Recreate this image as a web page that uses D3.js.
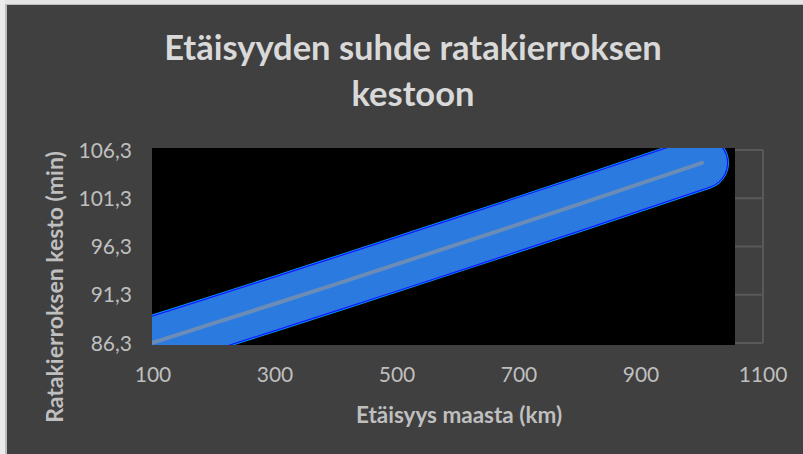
<!DOCTYPE html>
<html>
<head>
<meta charset="utf-8">
<script src="https://cdn.jsdelivr.net/npm/d3@7/dist/d3.min.js"></script>
<style>
  html, body { margin: 0; padding: 0; background: #404040; }
  svg { display: block; }
</style>
</head>
<body>
<svg id="chart" width="803" height="454"></svg>
<script>
// Orbital altitude (km) and period of one orbit (min)
const altitudes = [100, 200, 300, 400, 500, 600, 700, 800, 900, 1000];
const periods = [86.34, 88.35, 90.37, 92.41, 94.47, 96.54, 98.62, 100.72, 102.84, 104.97];
const xTicks = [100, 300, 500, 700, 900, 1100];
const yTicks = [86.3, 91.3, 96.3, 101.3, 106.3];

const titleLines = ["Etäisyyden suhde ratakierroksen", "kestoon"];
const xTitle = "Etäisyys maasta (km)";
const yTitle = "Ratakierroksen kesto (min)";

const W = 803, H = 454;
const svg = d3.select("#chart");
const font = "Lato, 'Open Sans', sans-serif";

// Background and the light frame on the top and left edges
svg.append("rect").attr("width", W).attr("height", H).attr("fill", "#404040");
svg.append("rect").attr("x", 0).attr("y", 0).attr("width", W).attr("height", 4).attr("fill", "#e4e4e4");
svg.append("rect").attr("x", 0).attr("y", 0).attr("width", 5).attr("height", H).attr("fill", "#ebebeb");
svg.append("rect").attr("x", 5).attr("y", 4).attr("width", 2).attr("height", H).attr("fill", "#bdbdbd");
svg.append("rect").attr("x", 5).attr("y", 4).attr("width", W).attr("height", 1).attr("fill", "#bdbdbd");

const x = d3.scaleLinear().domain([100, 1100]).range([153, 763]);
const y = d3.scaleLinear().domain([86.3, 106.3]).range([343, 150]);

// Gridlines and right border of the plot area
const grid = svg.append("g");
grid.selectAll("line.h").data(yTicks).join("line")
  .attr("x1", x(100)).attr("x2", x(1100))
  .attr("y1", d => y(d)).attr("y2", d => y(d))
  .attr("stroke", "#595959").attr("stroke-width", 2);
grid.append("line")
  .attr("x1", x(1100)).attr("x2", x(1100))
  .attr("y1", y(106.3)).attr("y2", y(86.3))
  .attr("stroke", "#595959").attr("stroke-width", 2);

// Black panel behind the series
const panel = { x0: 152, x1: 735, y0: 148, y1: 345 };
svg.append("rect")
  .attr("x", panel.x0).attr("y", panel.y0)
  .attr("width", panel.x1 - panel.x0).attr("height", panel.y1 - panel.y0)
  .attr("fill", "#000");

svg.append("clipPath").attr("id", "clip")
  .append("rect")
  .attr("x", panel.x0).attr("y", panel.y0)
  .attr("width", panel.x1 - panel.x0).attr("height", panel.y1 - panel.y0);

const pts = altitudes.map((a, i) => [a, periods[i]]);
const line = d3.line().x(d => x(d[0])).y(d => y(d[1]));

const series = svg.append("g").attr("clip-path", "url(#clip)");
series.append("path").datum(pts).attr("d", line)
  .attr("fill", "none").attr("stroke", "#00a8ff").attr("stroke-width", 54)
  .attr("stroke-linecap", "round").attr("stroke-linejoin", "round");
series.append("path").datum(pts).attr("d", line)
  .attr("fill", "none").attr("stroke", "#1414ff").attr("stroke-width", 52.5)
  .attr("stroke-linecap", "round").attr("stroke-linejoin", "round");
series.append("path").datum(pts).attr("d", line)
  .attr("fill", "none").attr("stroke", "#2a7ae0").attr("stroke-width", 50)
  .attr("stroke-linecap", "round").attr("stroke-linejoin", "round");
series.append("path").datum(pts).attr("d", line)
  .attr("fill", "none").attr("stroke", "#6a8cb6").attr("stroke-width", 4)
  .attr("stroke-linecap", "round").attr("stroke-linejoin", "round");

// Tick labels
const fmt = d => d3.format(".1f")(d).replace(".", ",");
svg.append("g").selectAll("text").data(yTicks).join("text")
  .attr("x", 132).attr("y", d => y(d) + 7.5)
  .attr("text-anchor", "end")
  .attr("font-family", font).attr("font-size", 21)
  .attr("fill", "#bfbfbf")
  .text(fmt);

svg.append("g").selectAll("text").data(xTicks).join("text")
  .attr("x", d => x(d)).attr("y", 382)
  .attr("text-anchor", "middle")
  .attr("font-family", font).attr("font-size", 21)
  .attr("fill", "#bfbfbf")
  .text(d => d);

// Axis titles
svg.append("text")
  .attr("x", 459).attr("y", 423)
  .attr("text-anchor", "middle")
  .attr("font-family", font).attr("font-size", 22.5).attr("font-weight", "bold")
  .attr("fill", "#bfbfbf")
  .text(xTitle);

svg.append("text")
  .attr("transform", "translate(63,287) rotate(-90)")
  .attr("text-anchor", "middle")
  .attr("font-family", font).attr("font-size", 23).attr("font-weight", "bold")
  .attr("fill", "#bfbfbf")
  .text(yTitle);

// Chart title
svg.append("g").selectAll("text").data(titleLines).join("text")
  .attr("x", 413).attr("y", (d, i) => 60 + i * 46)
  .attr("text-anchor", "middle")
  .attr("font-family", font).attr("font-size", 34.5).attr("font-weight", "bold")
  .attr("fill", "#d9d9d9")
  .text(d => d);
</script>
</body>
</html>
